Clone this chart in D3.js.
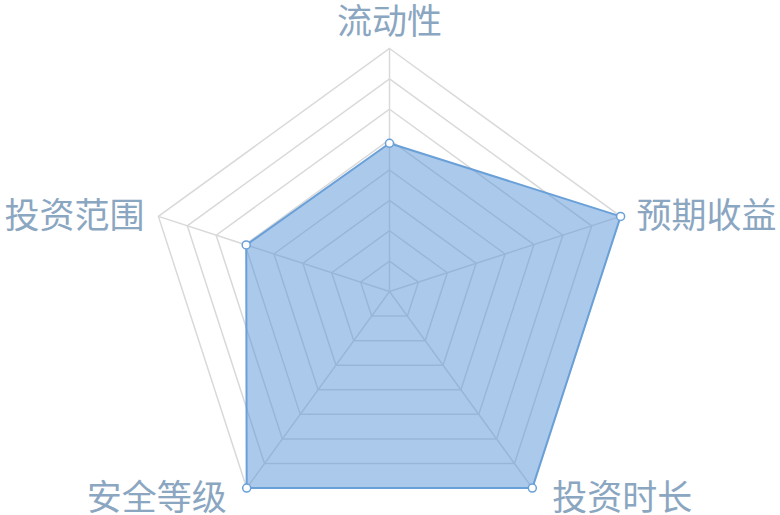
<!DOCTYPE html>
<html>
<head>
<meta charset="utf-8">
<script src="https://cdn.jsdelivr.net/npm/d3@7"></script>
<style>
  html, body { margin: 0; padding: 0; background: #fff; }
  svg { display: block; }
  text { font-family: "Noto Sans CJK SC", "Noto Sans", sans-serif; }
</style>
</head>
<body>
<svg id="chart" width="780" height="515"></svg>
<script>
const indicators = ["流动性", "预期收益", "投资时长", "安全等级", "投资范围"];
const maxValues = [100, 100, 100, 100, 100];
const seriesValues = [61, 100, 100, 100, 62];
const splitLevels = [1, 2, 3, 4, 5, 6, 7, 8];

const W = 780, H = 515;
const cx = 389.5, cy = 291.5, R = 243;
const svg = d3.select("#chart");
const g = svg.append("g").attr("transform", `translate(${cx},${cy})`);

const n = indicators.length;
const angle = d3.scaleLinear().domain([0, n]).range([0, 2 * Math.PI]);
const rScale = d3.scaleLinear().domain([0, 1]).range([0, R]);
const levelScale = d3.scaleLinear().domain([0, splitLevels.length]).range([0, 1]);

function pt(i, frac) {
  const a = angle(i);
  const r = rScale(frac);
  return [r * Math.sin(a), -r * Math.cos(a)];
}

const gridColor = "#d9d9d9";
const line = d3.line().curve(d3.curveLinearClosed);
g.selectAll("path.ring").data(splitLevels).enter().append("path")
  .attr("class", "ring")
  .attr("d", l => line(d3.range(n).map(i => pt(i, levelScale(l)))))
  .attr("fill", "none").attr("stroke", gridColor).attr("stroke-width", 1.5);

g.selectAll("line.axis").data(d3.range(n)).enter().append("line")
  .attr("class", "axis")
  .attr("x1", 0).attr("y1", 0)
  .attr("x2", i => pt(i, 1)[0]).attr("y2", i => pt(i, 1)[1])
  .attr("stroke", gridColor).attr("stroke-width", 1.5);

const dataPts = seriesValues.map((v, i) => pt(i, v / maxValues[i]));
g.append("path")
  .attr("d", line(dataPts))
  .attr("fill", "rgba(87,147,216,0.5)")
  .attr("stroke", "#6aa0d8").attr("stroke-width", 2)
  .attr("stroke-linejoin", "round");

g.selectAll("circle.pt").data(dataPts).enter().append("circle")
  .attr("class", "pt")
  .attr("cx", d => d[0]).attr("cy", d => d[1]).attr("r", 4)
  .attr("fill", "#fff").attr("stroke", "#6aa0d8").attr("stroke-width", 1.5);

const labelColor = "#8ba6c1";
indicators.forEach((name, i) => {
  const [vx, vy] = pt(i, 1);
  const a = angle(i);
  const s = Math.sin(a), c = Math.cos(a);
  let x, y, anchor;
  if (Math.abs(s) < 0.1) { anchor = "middle"; x = vx; y = vy - 30; }
  else if (c > 0) { anchor = s > 0 ? "start" : "end"; x = vx + (s > 0 ? 16 : -14); y = vy - 4; }
  else { anchor = s > 0 ? "start" : "end"; x = vx + (s > 0 ? 20 : -20); y = vy + 6.5; }
  g.append("text")
    .attr("x", x).attr("y", y)
    .attr("text-anchor", anchor)
    .attr("dominant-baseline", "central")
    .attr("font-size", 35)
    .attr("fill", labelColor)
    .text(name);
});
</script>
</body>
</html>
